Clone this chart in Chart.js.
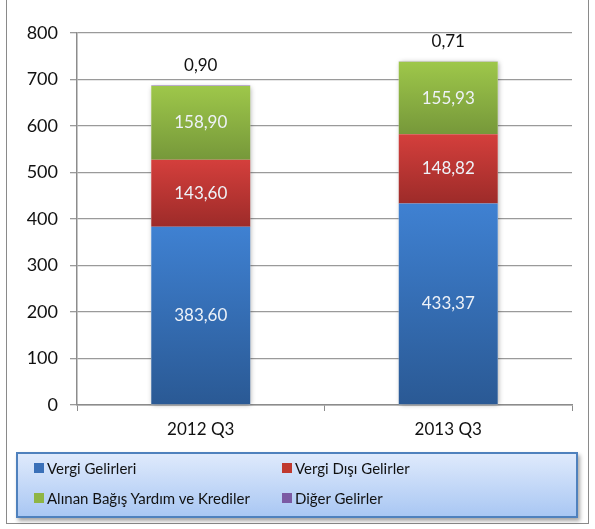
<!DOCTYPE html>
<html><head><meta charset="utf-8">
<script src="https://cdn.jsdelivr.net/npm/chart.js@4/dist/chart.umd.min.js"></script>
<style>
html,body{margin:0;padding:0;background:#fff;}
#wrap{position:relative;width:595px;height:529px;overflow:hidden;font-family:Lato,"Open Sans",sans-serif;}
#frame{position:absolute;left:6px;top:-2px;width:583px;height:526px;border:1px solid #8a8a8a;box-sizing:border-box;}
#cv{position:absolute;left:0;top:0;}
#legend{position:absolute;left:16px;top:452px;width:562px;height:66px;box-sizing:border-box;border:2px solid #4f81bd;
 background:linear-gradient(#dfeafc,#a9c7f3);box-shadow:2px 3px 4px rgba(0,0,0,0.35);font-size:15px;color:#111;}
.li{position:absolute;display:flex;align-items:center;white-space:nowrap;}
.sw{width:10px;height:10px;margin-right:3px;}
</style></head>
<body><div id="wrap">
<div id="frame"></div>
<canvas id="cv" width="595" height="450"></canvas>
<div id="legend"></div>
</div>
<script>
const categories = ["2012 Q3", "2013 Q3"];
const seriesNames = ["Vergi Gelirleri", "Vergi Dışı Gelirler", "Alınan Bağış Yardım ve Krediler", "Diğer Gelirler"];
const vergiGelirleri = [383.60, 433.37];
const vergiDisiGelirler = [143.60, 148.82];
const alinanBagis = [158.90, 155.93];
const digerGelirler = [0.90, 0.71];
const yTicks = [0, 100, 200, 300, 400, 500, 600, 700, 800];

const seriesValues = [vergiGelirleri, vergiDisiGelirler, alinanBagis, digerGelirler];
const gradTop = ["#3f81d2", "#d43f3c", "#9ec74a", "#8064a2"];
const gradBot = ["#2a5994", "#9d2b29", "#76983a", "#6a4f8a"];
const swatch = ["#3a70b8", "#c0392f", "#8fb544", "#7b5aa3"];

function fmt(v){ return v.toFixed(2).replace('.', ','); }

function bgFor(di){
  return function(ctx){
    const chart = ctx.chart;
    const y = chart.scales && chart.scales.y;
    const j = ctx.dataIndex;
    if (!y || j === undefined || !chart.chartArea) return gradTop[di];
    let base = 0;
    for (let k = 0; k < di; k++) base += seriesValues[k][j];
    const top = base + seriesValues[di][j];
    const y0 = y.getPixelForValue(top), y1 = y.getPixelForValue(base);
    if (!isFinite(y0) || !isFinite(y1) || y0 === y1) return gradTop[di];
    const g = chart.ctx.createLinearGradient(0, y0, 0, y1);
    g.addColorStop(0, gradTop[di]);
    g.addColorStop(1, gradBot[di]);
    return g;
  };
}

const labelPlugin = {
  id: 'labels',
  afterDatasetsDraw(chart){
    const ctx = chart.ctx;
    ctx.save();
    ctx.font = '17px Lato, "Open Sans", sans-serif';
    ctx.textAlign = 'center';
    ctx.textBaseline = 'middle';
    for (let di = 0; di < 3; di++){
      const meta = chart.getDatasetMeta(di);
      meta.data.forEach((el, j) => {
        ctx.fillStyle = '#eef2f8';
        ctx.fillText(fmt(seriesValues[di][j]), el.x, (el.y + el.base) / 2);
      });
    }
    const meta = chart.getDatasetMeta(3);
    meta.data.forEach((el, j) => {
      ctx.fillStyle = '#111';
      ctx.fillText(fmt(seriesValues[3][j]), el.x, el.y - 20);
    });
    ctx.restore();
  }
};

const shadowPlugin = {
  id: 'shadow',
  beforeDatasetsDraw(chart){
    const ctx = chart.ctx;
    const m0 = chart.getDatasetMeta(0), m3 = chart.getDatasetMeta(3);
    ctx.save();
    ctx.shadowColor = 'rgba(0,0,0,0.35)';
    ctx.shadowBlur = 5;
    ctx.shadowOffsetX = 1;
    ctx.shadowOffsetY = 1;
    ctx.fillStyle = '#fff';
    m0.data.forEach((el, j) => {
      const top = m3.data[j].y, bot = el.base;
      ctx.fillRect(el.x - el.width / 2, top, el.width, bot - top);
    });
    ctx.restore();
  }
};

new Chart(document.getElementById('cv'), {
  type: 'bar',
  data: {
    labels: categories,
    datasets: seriesNames.map((n, i) => ({
      label: n,
      data: seriesValues[i],
      backgroundColor: bgFor(i),
      borderWidth: 0,
      barPercentage: 0.4,
      categoryPercentage: 1.0
    }))
  },
  options: {
    responsive: false,
    animation: false,
    devicePixelRatio: 1,
    layout: { padding: { left: 0, right: 23, top: 33, bottom: 0 } },
    plugins: { legend: { display: false }, tooltip: { enabled: false } },
    scales: {
      x: {
        stacked: true,
        grid: { drawOnChartArea: false, drawTicks: true, tickLength: 6, color: '#8c8c8c', offset: true },
        border: { color: '#8c8c8c', width: 1.5 },
        ticks: { color: '#111', font: { family: 'Lato, "Open Sans", sans-serif', size: 17 }, padding: 8 },
        afterFit(s){ s.height = 45; }
      },
      y: {
        stacked: true,
        min: 0, max: 800,
        afterBuildTicks(s){ s.ticks = yTicks.map(v => ({ value: v })); },
        grid: { color: '#9a9a9a', lineWidth: 1.3, tickLength: 7 },
        border: { color: '#8c8c8c', width: 1.5 },
        ticks: { color: '#111', font: { family: 'Lato, "Open Sans", sans-serif', size: 18 }, padding: 12 },
        afterFit(s){ s.width = 77; }
      }
    }
  },
  plugins: [shadowPlugin, labelPlugin]
});

const lg = document.getElementById('legend');
const pos = [[16, 5], [264, 5], [16, 35], [264, 35]];
seriesNames.forEach((n, i) => {
  const d = document.createElement('div');
  d.className = 'li';
  d.style.left = pos[i][0] + 'px';
  d.style.top = pos[i][1] + 'px';
  d.innerHTML = '<span class="sw" style="background:' + swatch[i] + '"></span><span>' + n + '</span>';
  lg.appendChild(d);
});
</script>
</body></html>
